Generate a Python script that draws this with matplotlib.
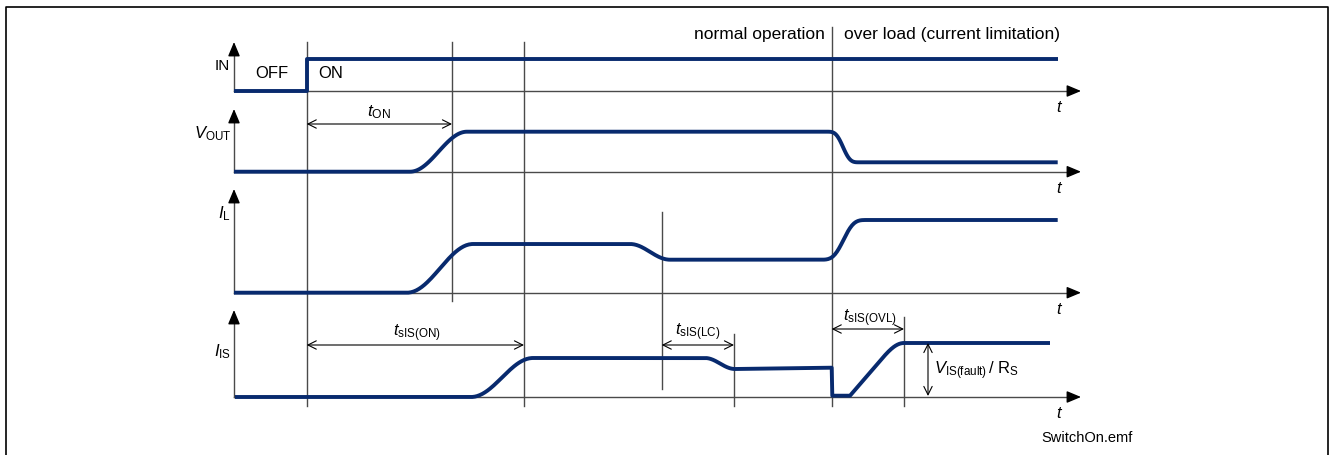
#!/usr/bin/env python3
# -*- coding: utf-8 -*-

import matplotlib
matplotlib.use("Agg")
import matplotlib.pyplot as plt
import numpy as np

plt.rcParams['font.family'] = ['Liberation Sans', 'DejaVu Sans']
plt.rcParams['mathtext.fontset'] = 'custom'
plt.rcParams['mathtext.rm'] = 'Liberation Sans'
plt.rcParams['mathtext.it'] = 'Liberation Sans:italic'

# ---- data: event times (time units from origin) and signal levels ----
# segment kinds: 'l' linear, 's' smooth s-curve, 'k' sharp s-curve, 'o' ease-out
in_t = [0, 72.7, 72.7, 823.7]
in_lvl = [0, 0, 32, 32]
in_kind = ['l', 'l', 'l']

vout_t = [0, 176, 233, 592, 626, 823.7]
vout_lvl = [0, 0, 40, 40, 9.4, 9.4]
vout_kind = ['l', 's', 'l', 'k', 'l']

il_t = [0, 173, 239, 396, 436, 585, 634, 823.7]
il_lvl = [0, 0, 48.7, 48.7, 33, 33, 72.7, 72.7]
il_kind = ['l', 's', 'l', 's', 'l', 'k', 'l']

iis_t = [1, 237, 299, 471, 501, 597.7, 598.3, 616, 647, 670, 816]
iis_lvl = [0, 0, 39, 39, 28, 29.3, 1.3, 1.3, 37.3, 54, 54]
iis_kind = ['l', 's', 'l', 's', 'l', 'l', 'l', 'l', 'o', 'l']

# vertical event markers: time, top, bottom
mark_t = [72.7, 218, 290, 427.7, 500, 597.7, 670]
mark_top = [43, 43, 43, 213, 335, 28, 318]
mark_bot = [407, 302, 407, 390, 407, 407, 407]

# ---- layout ----
X0 = 234
T_END = 847
base = {'IN': 92, 'VOUT': 172.7, 'IL': 293.7, 'IS': 398}
ytip = {'IN': 43, 'VOUT': 110, 'IL': 190, 'IS': 311}
NAVY = '#082a6e'
GREY = '#4a4a4a'


def ease(u):
    return (1 - np.cos(np.pi * u)) / 2


def build(t, lvl, kind, y0):
    xs, ys = [t[0]], [lvl[0]]
    for i, k in enumerate(kind):
        a, b = t[i], t[i + 1]
        la, lb = lvl[i], lvl[i + 1]
        if k == 'l':
            u = np.array([1.0])
            f = u
        else:
            u = np.linspace(0, 1, 50)[1:]
            if k == 's':
                f = ease(u)
            elif k == 'k':
                f = ease(ease(u))
            else:
                f = np.sin(np.pi * u / 2)
        xs.extend(a + (b - a) * u)
        ys.extend(la + (lb - la) * f)
    return X0 + np.array(xs), y0 - np.array(ys)


fig = plt.figure(figsize=(13.29, 4.56), dpi=100)
ax = fig.add_axes([0, 0, 1, 1])
ax.set_xlim(0, 1329)
ax.set_ylim(456, 0)
ax.axis('off')

# frame
ax.plot([5.5, 5.5, 1327.5, 1327.5], [470, 8, 8, 470], color='black', lw=1.2)

# axes with arrows
for key in base:
    y0 = base[key]
    ax.plot([X0, X0 + T_END - 10], [y0, y0], color=GREY, lw=1)
    ax.plot([X0, X0], [y0, ytip[key] + 10], color=GREY, lw=1)
    ax.annotate('', xy=(X0 + T_END, y0), xytext=(X0 + T_END - 12, y0),
                arrowprops=dict(arrowstyle='-|>,head_length=0.86,head_width=0.36',
                                mutation_scale=10, color='black', lw=1,
                                shrinkA=0, shrinkB=0))
    ax.annotate('', xy=(X0, ytip[key]), xytext=(X0, ytip[key] + 12),
                arrowprops=dict(arrowstyle='-|>,head_length=0.86,head_width=0.36',
                                mutation_scale=10, color='black', lw=1,
                                shrinkA=0, shrinkB=0))
    ax.text(X0 + 825, y0 + 16, 't', fontsize=12, style='italic',
            ha='center', va='center')

# event markers
for t, a, b in zip(mark_t, mark_top, mark_bot):
    ax.plot([X0 + t, X0 + t], [a, b], color=GREY, lw=1)

# signals
for t, lvl, kind, key in [(in_t, in_lvl, in_kind, 'IN'),
                          (vout_t, vout_lvl, vout_kind, 'VOUT'),
                          (il_t, il_lvl, il_kind, 'IL'),
                          (iis_t, iis_lvl, iis_kind, 'IS')]:
    x, y = build(t, lvl, kind, base[key])
    ax.plot(x, y, color=NAVY, lw=2.8, solid_capstyle='butt', solid_joinstyle='round')

# signal names
ax.text(230, 66, 'IN', fontsize=11, ha='right', va='center')
ax.text(231, 134, r'$\mathit{V}_{\mathrm{OUT}}$', fontsize=12, ha='right', va='center')
ax.text(231, 214, r'$\mathit{I}_{\mathrm{L}}$', fontsize=12, ha='right', va='center')
ax.text(231, 352, r'$\mathit{I}_{\mathrm{IS}}$', fontsize=12, ha='right', va='center')
ax.text(255, 74, 'OFF', fontsize=12, ha='left', va='center')
ax.text(318, 74, 'ON', fontsize=12, ha='left', va='center')

# region labels
ax.text(825, 34, 'normal operation', fontsize=12.5, ha='right', va='center')
ax.text(844, 34, 'over load (current limitation)', fontsize=12.5, ha='left', va='center')

# timing dimensions
dim = dict(arrowstyle='<->,head_length=0.6,head_width=0.3', mutation_scale=10,
           color='black', lw=0.8, shrinkA=0, shrinkB=0)
ax.annotate('', xy=(X0 + 72.7, 125), xytext=(X0 + 218, 125), arrowprops=dim)
ax.text(379, 112, r'$\mathit{t}_{\mathrm{ON}}$', fontsize=12.5, ha='center', va='center')

ax.annotate('', xy=(X0 + 72.7, 346), xytext=(X0 + 290, 346), arrowprops=dim)
ax.text(417, 333, r'$\mathit{t}_{\mathrm{sIS(ON)}}$', fontsize=12, ha='center', va='center')

ax.annotate('', xy=(X0 + 427.7, 346), xytext=(X0 + 500, 346), arrowprops=dim)
ax.text(698, 332, r'$\mathit{t}_{\mathrm{sIS(LC)}}$', fontsize=12, ha='center', va='center')

ax.annotate('', xy=(X0 + 597.7, 330), xytext=(X0 + 670, 330), arrowprops=dim)
ax.text(870, 318, r'$\mathit{t}_{\mathrm{sIS(OVL)}}$', fontsize=12, ha='center', va='center')

ax.annotate('', xy=(928, 344), xytext=(928, 397), arrowprops=dim)
ax.text(934, 371, r'$\mathit{V}_{\mathrm{IS(fault)}}\,/\;\mathrm{R}_{\mathrm{S}}$',
        fontsize=12, ha='left', va='center')

ax.text(1087, 438, 'SwitchOn.emf', fontsize=10.5, ha='center', va='center')

fig.savefig('out.png', dpi=100)
